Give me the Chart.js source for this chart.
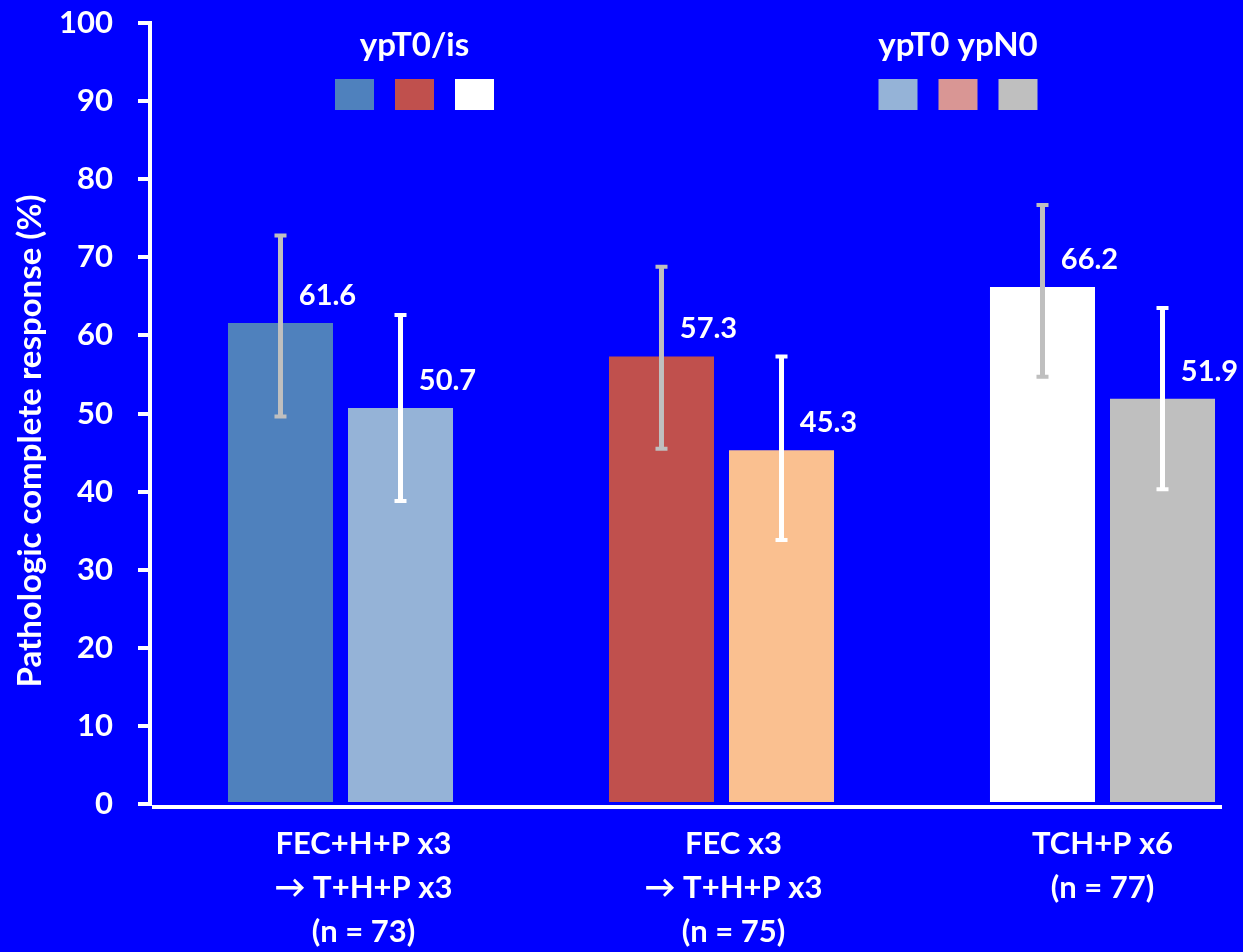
<!DOCTYPE html>
<html>
<head>
<meta charset="utf-8">
<script src="https://cdn.jsdelivr.net/npm/chart.js@4.4.1/dist/chart.umd.min.js"></script>
<style>
  html, body { margin: 0; padding: 0; background: #0000FF; overflow: hidden; width: 1243px; height: 952px; }
  #wrap { position: relative; width: 1300px; height: 952px; }
</style>
</head>
<body>
<div id="wrap"><canvas id="c" width="1300" height="952"></canvas></div>
<script>
// Treatment arms (multi-line category labels)
const categories = [
  ['FEC+H+P x3', '\u2192 T+H+P x3', '(n = 73)'],
  ['FEC x3', '\u2192 T+H+P x3', '(n = 75)'],
  ['TCH+P x6', '(n = 77)']
];

// ypT0/is pathologic complete response (%) with 95% CI
const ypT0isValues = [61.6, 57.3, 66.2];
const ypT0isLower  = [49.6, 45.5, 54.7];
const ypT0isUpper  = [72.8, 68.8, 76.7];

// ypT0 ypN0 pathologic complete response (%) with 95% CI
const ypT0N0Values = [50.7, 45.3, 51.9];
const ypT0N0Lower  = [38.8, 33.8, 40.3];
const ypT0N0Upper  = [62.6, 57.3, 63.5];

// Y axis ticks
const yTickValues = [0, 10, 20, 30, 40, 50, 60, 70, 80, 90, 100];

// Colours per arm
const ypT0isColors       = ['#4F81BD', '#C0504D', '#FFFFFF'];
const ypT0N0Colors       = ['#95B3D7', '#FAC090', '#BFBFBF'];
const ypT0N0LegendColors = ['#95B3D7', '#D99694', '#BFBFBF'];

const FONT = 'Lato, "Open Sans", "DejaVu Sans", sans-serif';

const slidePlugin = {
  id: 'slide',
  beforeDraw(chart) {
    const ctx = chart.ctx;
    ctx.save();
    ctx.fillStyle = '#0000FF';
    ctx.fillRect(0, 0, chart.width, chart.height);
    ctx.restore();
  },
  afterDraw(chart) {
    const ctx = chart.ctx;
    const area = chart.chartArea;
    const xs = chart.scales.x;
    const ys = chart.scales.y;
    ctx.save();

    // axis lines
    ctx.strokeStyle = '#FFFFFF';
    ctx.lineWidth = 4;
    ctx.beginPath();
    ctx.moveTo(area.left, area.top - 2);
    ctx.lineTo(area.left, area.bottom + 2);
    ctx.stroke();
    ctx.beginPath();
    ctx.moveTo(area.left + 2, area.bottom + 3);
    ctx.lineTo(1222, area.bottom + 3);
    ctx.stroke();

    // error bars
    chart.data.datasets.forEach((ds, i) => {
      const meta = chart.getDatasetMeta(i);
      ctx.strokeStyle = ds.errColor;
      meta.data.forEach((bar, j) => {
        const yLo = ys.getPixelForValue(ds.errLow[j]);
        const yHi = ys.getPixelForValue(ds.errHigh[j]);
        ctx.lineWidth = 5;
        ctx.beginPath();
        ctx.moveTo(bar.x, yLo);
        ctx.lineTo(bar.x, yHi);
        ctx.stroke();
        ctx.lineWidth = 4;
        ctx.beginPath();
        ctx.moveTo(bar.x - 6, yLo); ctx.lineTo(bar.x + 6, yLo);
        ctx.moveTo(bar.x - 6, yHi); ctx.lineTo(bar.x + 6, yHi);
        ctx.stroke();
      });
    });

    // value labels
    ctx.fillStyle = '#FFFFFF';
    ctx.font = 'bold 29px ' + FONT;
    ctx.textAlign = 'center';
    ctx.textBaseline = 'alphabetic';
    chart.data.datasets.forEach((ds, i) => {
      const meta = chart.getDatasetMeta(i);
      meta.data.forEach((bar, j) => {
        ctx.fillText(ds.data[j].toFixed(1), bar.x + 47, bar.y - 18);
      });
    });

    // category labels
    const shift = [23, 12, 0];
    ctx.font = 'bold 31px ' + FONT;
    chart.data.labels.forEach((lines, j) => {
      const cx = xs.getPixelForValue(j) + shift[j];
      lines.forEach((line, k) => {
        ctx.fillText(line, cx, area.bottom + 50 + k * 44);
      });
    });

    // legend: two titled groups of swatches
    const groups = [
      { title: chart.data.datasets[0].label, colors: ypT0isColors, cx: 414.5 },
      { title: chart.data.datasets[1].label, colors: ypT0N0LegendColors, cx: 958 }
    ];
    groups.forEach(g => {
      ctx.fillStyle = '#FFFFFF';
      ctx.font = 'bold 33px ' + FONT;
      ctx.fillText(g.title, g.cx, 56);
      g.colors.forEach((c, k) => {
        ctx.fillStyle = c;
        ctx.fillRect(g.cx + (k - 1) * 60 - 19.5, 79, 39, 31);
      });
    });

    // y axis title
    ctx.fillStyle = '#FFFFFF';
    ctx.font = 'bold 33px ' + FONT;
    ctx.translate(30, 441);
    ctx.rotate(-Math.PI / 2);
    ctx.textBaseline = 'middle';
    ctx.fillText('Pathologic complete response (%)', 0, 0);
    ctx.restore();
  }
};

new Chart(document.getElementById('c'), {
  type: 'bar',
  data: {
    labels: categories,
    datasets: [
      { label: 'ypT0/is', data: ypT0isValues, backgroundColor: ypT0isColors,
        errLow: ypT0isLower, errHigh: ypT0isUpper, errColor: '#BFBFBF' },
      { label: 'ypT0 ypN0', data: ypT0N0Values, backgroundColor: ypT0N0Colors,
        errLow: ypT0N0Lower, errHigh: ypT0N0Upper, errColor: '#FFFFFF' }
    ]
  },
  options: {
    responsive: false,
    animation: false,
    devicePixelRatio: 1,
    layout: { padding: { top: 23, left: 0, right: 7, bottom: 0 } },
    datasets: { bar: { categoryPercentage: 0.63, barPercentage: 0.875 } },
    plugins: { legend: { display: false }, tooltip: { enabled: false } },
    scales: {
      x: {
        grid: { display: false },
        border: { display: false },
        ticks: { display: false },
        afterFit(s) { s.height = 148; }
      },
      y: {
        min: 0,
        max: 100,
        afterBuildTicks(s) { s.ticks = yTickValues.map(v => ({ value: v })); },
        ticks: { color: '#FFFFFF', font: { family: FONT, weight: 'bold', size: 31 }, padding: 25 },
        grid: { drawOnChartArea: false, color: '#FFFFFF', lineWidth: 4, tickLength: 12 },
        border: { display: false },
        afterFit(s) { s.width = 150; s.paddingTop = 0; s.paddingBottom = 0; }
      }
    }
  },
  plugins: [slidePlugin]
});
</script>
</body>
</html>
